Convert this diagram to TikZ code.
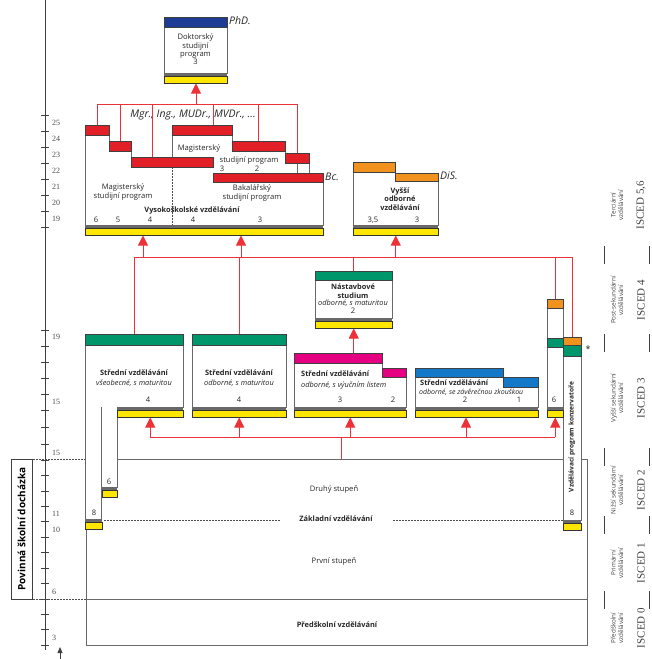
\documentclass[tikz,border=0pt]{standalone}
\usepackage{fontspec}
\setmainfont{Open Sans}
\newfontfamily\numfont{Liberation Serif}
\usetikzlibrary{arrows.meta,calc}

\definecolor{uniRed}{RGB}{226,30,38}
\definecolor{phdBlue}{RGB}{30,60,150}
\definecolor{secGreen}{RGB}{0,150,108}
\definecolor{souPink}{RGB}{228,0,128}
\definecolor{zkBlue}{RGB}{20,120,200}
\definecolor{disOrange}{RGB}{242,146,30}
\definecolor{baseYellow}{RGB}{255,230,0}
\definecolor{frameGray}{RGB}{105,105,105}
\definecolor{linkRed}{RGB}{236,50,56}

\tikzset{
  body/.style={draw=frameGray, line width=0.9pt, fill=white},
  bar/.style={draw=black!75, line width=0.5pt, inner sep=0pt, anchor=north west},
  base/.style={draw=black!80, line width=0.5pt, fill=baseYellow, inner sep=0pt, anchor=north west},
  link/.style={draw=linkRed, line width=0.9pt},
  up/.style={link, -{Triangle[width=10pt,length=10pt]}},
  axis/.style={draw=black!75, line width=0.8pt},
  txt/.style={font=\fontsize{7.6}{8.4}\selectfont, inner sep=0pt, align=center, text=black!85},
  btxt/.style={txt, font=\fontsize{7.4}{8.4}\selectfont\bfseries},
  itxt/.style={txt, font=\fontsize{7.4}{8.4}\selectfont\itshape},
  deg/.style={font=\fontsize{10.5}{11}\selectfont\itshape, inner sep=0pt, anchor=west, text=black!85},
  axnum/.style={font=\numfont\fontsize{8}{8}\selectfont, inner sep=0pt, anchor=west, text=black!70},
  isced/.style={font=\numfont\fontsize{11}{11}\selectfont, inner sep=0pt, rotate=90, text=black!75},
  level/.style={font=\fontsize{6.3}{7.3}\selectfont, inner sep=0pt, rotate=90, align=center, text=black!75},
  dots/.style={draw=black!70, line width=0.6pt, dash pattern=on 1.5pt off 1.5pt}
}

\begin{document}
\begin{tikzpicture}[x=1pt,y=-1pt]
\useasboundingbox (0,0) rectangle (652,659);

% age axis
\draw[axis] (45,0) -- (45,650);
\foreach \t in {115,131,...,227} \draw[axis] (41,\t) -- (49,\t);
\foreach \t in {330,346,...,410} \draw[axis] (41,\t) -- (49,\t);
\foreach \t in {427,444,460,475.5,491,506.5,521.5,537,552.5,568,583.5,599,614,629.5,645}
  \draw[axis] (41,\t) -- (49,\t);
\foreach \a/\y in {25/123,24/139,23/155,22/171,21/187,20/203,19/219,19/337,15/402,15/453,11/514,10/530,6/592,3/638}
  \node[axnum] (age\a-\y) at (52,\y) {\a};
\coordinate (ageFoot) at (60,659);
\coordinate (ageHead) at (60,647);
\draw[axis, -{Triangle[width=5pt,length=6pt]}] (ageFoot) -- (ageHead);

% compulsory schooling
\draw[axis, line width=0.7pt] (11,459) rectangle (32,599);
\node[font=\fontsize{10}{10}\selectfont\bfseries, rotate=90, inner sep=0pt] (povinna) at (21.5,529) {Povinná školní docházka};
\draw[dots] (33,459) -- (86,459);
\draw[dots] (33,599) -- (86,599);

% bodies
\draw[body] (164,27) rectangle (227,73);
\draw[body] (85,125) -- (109,125) -- (109,141) -- (131,141) -- (131,157) -- (172,157) -- (172,125)
  -- (232,125) -- (232,141) -- (285,141) -- (285,153) -- (309,153) -- (309,173) -- (323,173)
  -- (323,225) -- (85,225) -- cycle;
\draw[dots] (172,167) -- (172,225);
\draw[body] (353,162) -- (395,162) -- (395,173) -- (438,173) -- (438,225) -- (353,225) -- cycle;
\draw[body] (315,271) rectangle (392,318);
\draw[body] (85,334) -- (183,334) -- (183,407) -- (117,407) -- (117,487) -- (101.7,487)
  -- (101.7,519) -- (85,519) -- cycle;
\draw[body] (101.7,407) -- (101.7,487);
\draw[body] (192,334) rectangle (286,407);
\draw[body] (294,353) -- (382,353) -- (382,368) -- (406,368) -- (406,407) -- (294,407) -- cycle;
\draw[body] (415,368) -- (503,368) -- (503,377) -- (538,377) -- (538,407) -- (415,407) -- cycle;
\draw[body] (547,299) rectangle (563,407);
\draw[body] (563,337) rectangle (581,520);

% basic school building
\draw[body, fill=none] (117,459) -- (563,459);
\draw[body, fill=none] (581,459) -- (587,459) -- (587,645) -- (86,645) -- (86,529);
\draw[body, fill=none] (86,599) -- (587,599);
\draw[dots] (104,520) -- (280,520);
\draw[dots] (393,520) -- (563,520);

% coloured bars
\foreach \nm/\col/\xa/\ya/\xb/\yb in {
  phdBar/phdBlue/164/17/227/27,
  uL1/uniRed/85/125/109/135, uL2/uniRed/109/141/131/151, uL3/uniRed/131/157/213/167,
  uR1/uniRed/172/125/232/135, uR2/uniRed/232/141/285/151, uR3/uniRed/285/153/309/163,
  uBc/uniRed/213/173/323/182,
  dis1/disOrange/353/162/395/172, dis2/disOrange/395/173/438/181,
  nastBar/secGreen/315/271/392/280,
  gymBar/secGreen/85/334/183/345, somBar/secGreen/192/334/286/345,
  souBar1/souPink/294/353/382/363, souBar2/souPink/382/368/406/377,
  zkBar1/zkBlue/415/368/503/377, zkBar2/zkBlue/503/377/538/387,
  kOr1/disOrange/547/299/563/308, kGr1/secGreen/547/338/563/347,
  kOr2/disOrange/563/337/581/345, kGr2/secGreen/563/345/581/356}
  \node[bar, fill=\col, minimum width=\xb-\xa, minimum height=\yb-\ya] (\nm) at (\xa,\ya) {};

% yellow bases
\foreach \nm/\xa/\xb/\yt in {
  phdBase/164/227/73, uniBase/85/323/225, disBase/353/438/225, nastBase/315/392/318,
  gymBase/117/183/407, g6Base/101.7/117/487, g8Base/85/101.7/519,
  somBase/192/286/407, souBase/294/406/407, zkBase/415/538/407,
  kBase/547/563/407, consBase/563/581/520} {
  \fill[frameGray] (\xa,\yt) rectangle (\xb,\yt+3);
  \node[base, minimum width=\xb-\xa, minimum height=7] (\nm) at (\xa,\yt+3) {};
}

\draw[body, fill=none, line width=0.6pt] (uR3.south) -- (uR3.south |- uBc.north);
\draw[body, fill=none, line width=0.6pt] (uR3.south east) -- (uR3.south east |- uBc.north);

% texts
\node[txt] (phdTxt) at (195.5,49.5) {Doktorský\\studijní\\program\\3};
\node[deg] (phdTag) at (229,21) {PhD.};
\node[deg, anchor=center] (mgrTag) at (193,115) {Mgr., Ing., MUDr., MVDr., ...};
\node[deg] (bcTag) at (325,177) {Bc.};
\node[deg] (disTag) at (440,176) {DiS.};
\node[txt] (mgrLong) at (123,192) {Magisterský\\studijní program};
\node[txt] (mgrA) at (199,148) {Magisterský};
\node[txt] (mgrB) at (249,160) {studijní program};
\node[txt] (mgr3) at (222,169) {3};
\node[txt] (mgr2) at (257,169) {2};
\node[txt] (bcTxt) at (252,193) {Bakalářský\\studijní program};
\node[btxt] (vsTxt) at (192,211) {Vysokoškolské vzdělávání};
\foreach \n/\x in {6/96,5/118,4/150,4/193,3/260}
  \node[txt] (uy\x) at (\x,220) {\n};
\node[btxt] (vosTxt) at (400,199) {Vyšší\\odborné\\vzdělávání};
\node[txt] (vosA) at (373,220) {3,5};
\node[txt] (vosB) at (417,220) {3};
\node[btxt] (nastTxt) at (353,291) {Nástavbové\\studium};
\node[itxt] (nastSub) at (353,303) {odborné, s maturitou};
\node[txt] (nastLen) at (353,311) {2};
\node[btxt] (gymTxt) at (134,373) {Střední vzdělávání};
\node[itxt] (gymSub) at (134,383) {všeobecné, s maturitou};
\node[txt] (gymLen) at (148,400) {4};
\node[btxt] (somTxt) at (239,373) {Střední vzdělávání};
\node[itxt] (somSub) at (239,383) {odborné, s maturitou};
\node[txt] (somLen) at (239,400) {4};
\node[btxt, anchor=west] (souTxt) at (301,374) {Střední vzdělávání};
\node[itxt, anchor=west] (souSub) at (301,386) {odborné, s výučním listem};
\node[txt] (souA) at (340,400) {3};
\node[txt] (souB) at (393,400) {2};
\node[btxt, anchor=west] (zkTxt) at (420,383) {Střední vzdělávání};
\node[itxt, anchor=west, font=\fontsize{7}{8}\selectfont\itshape] (zkSub) at (419,392) {odborné, se závěrečnou zkouškou};
\node[txt] (zkA) at (465,400) {2};
\node[txt] (zkB) at (519,400) {1};
\node[txt] (kLen) at (554,400) {6};
\node[txt] (consLen) at (572,513) {8};
\node[txt] (g6Len) at (109,482) {6};
\node[txt] (g8Len) at (94,513) {8};
\node[txt, font=\fontsize{9}{9}\selectfont] (star) at (588,349) {*};
\node[btxt, rotate=90, font=\fontsize{6.6}{7}\selectfont\bfseries] (consTxt) at (572,437) {Vzdělávací program konzervatoře};
\node[txt] (druhy) at (334,489) {Druhý stupeň};
\node[btxt] (zsTxt) at (336,519) {Základní vzdělávání};
\node[txt] (prvni) at (334,561) {První stupeň};
\node[btxt] (msTxt) at (337,625) {Předškolní vzdělávání};

% links to the doctoral programme
\coordinate (hubA) at (196,104);
\draw[up] (hubA) -- (hubA |- phdBase.south);
\draw[link] (uL1.north) |- (hubA);
\draw[link] (uL2.north) |- (hubA);
\draw[link] ($(uL3.north west)+(21,0)$) |- (hubA);
\draw[link] ($(uR1.north west)+(41,0)$) |- (hubA);
\draw[link] (uR2.north) |- (hubA);
\draw[link] (uR3.north) |- (hubA);

% links from secondary to tertiary
\coordinate (hubB) at (352,257);
\coordinate (upUniL) at (143,257);
\coordinate (upUniR) at (241,257);
\draw[link] (gymBar.north) |- (hubB);
\draw[link] (somBar.north) |- (hubB);
\draw[link] (nastBar.north) |- (hubB);
\draw[link] (kOr1.north) |- (hubB);
\draw[link] (kOr2.north) |- (hubB);
\draw[up] (upUniL) -- (upUniL |- uniBase.south);
\draw[up] (upUniR) -- (upUniR |- uniBase.south);
\draw[up] (hubB -| disBase.south) -- (disBase.south);
\draw[up] (nastBase.south |- souBar1.north) -- (nastBase.south);

% links from basic school
\coordinate (hubC) at (341,437);
\coordinate (zsTop) at (341,459);
\coordinate (upZk) at (466,437);
\draw[link] (hubC) -- (zsTop);
\draw[link] (hubC -| gymBase.south) -- (hubC -| kBase.south);
\draw[up] (hubC -| gymBase.south) -- (gymBase.south);
\draw[up] (hubC -| somBase.south) -- (somBase.south);
\draw[up] (hubC -| souBase.south) -- (souBase.south);
\draw[up] (upZk) -- (upZk |- zkBase.south);
\draw[up] (hubC -| kBase.south) -- (kBase.south);

% ISCED levels
\foreach \y/\lv/\code in {205/{Terciární\\vzdělávání}/{ISCED 5,6}, 300/{Post-sekundární\\vzdělávání}/{ISCED 4},
  398/{Vyšší sekundární\\vzdělávání}/{ISCED 3}, 490/{Nižší sekundární\\vzdělávání}/{ISCED 2},
  563/{Primární\\vzdělávání}/{ISCED 1}, 628/{Předškolní\\vzdělávání}/{ISCED 0}} {
  \node[level] (lv\y) at (617,\y) {\lv};
  \node[isced] (is\y) at (641,\y) {\code};
}
\foreach \y in {255,343,457,525,600} {
  \draw[axis, line width=0.5pt] (604,\y-9) -- (604,\y+9);
  \draw[axis, line width=0.5pt] (649,\y-9) -- (649,\y+9);
}
\end{tikzpicture}
\end{document}
